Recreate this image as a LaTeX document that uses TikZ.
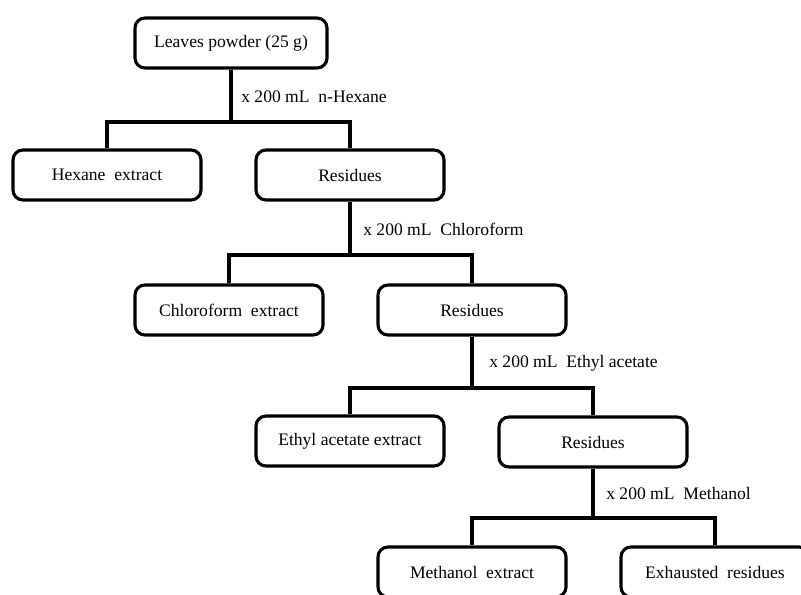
\documentclass[tikz,border=0pt]{standalone}
\usepackage{fontspec}
\setmainfont{Liberation Serif}
\usetikzlibrary{positioning}
\tikzset{every picture/.style={x=0.025cm,y=-0.025cm},
  box/.style={rectangle, rounded corners=0.25cm, draw=black, line width=2.2pt,
    minimum width=4.7cm, minimum height=1.25cm, font=\fontsize{12.5}{15}\selectfont},
  lbl/.style={anchor=west, inner sep=0pt, font=\fontsize{12.5}{15}\selectfont},
  link/.style={line width=2.6pt}}

\begin{document}
\begin{tikzpicture}
        \clip (0,0) rectangle (801,594);
        \node[box, minimum width=4.8cm] (top) at (231, 43) {Leaves powder (25 g)};
        \node[box] (hex) at (107, 175) {Hexane~ extract};
        \node[box] (res1) at (350, 175) {Residues};
        \node[box] (chl) at (229, 310) {Chloroform~ extract};
        \node[box] (res2) at (472, 310) {Residues};
        \node[box] (eth) at (350, 441) {Ethyl acetate extract};
        \node[box] (res3) at (593, 442) {Residues};
        \node[box] (met) at (472, 572) {Methanol~ extract};
        \node[box] (exh) at (715, 572) {Exhausted~ residues};

        \node[lbl] (s1) at (241, 97) {x 200 mL~ n-Hexane};
        \node[lbl] (s2) at (363, 229) {x 200 mL~ Chloroform};
        \node[lbl] (s3) at (489, 363) {x 200 mL~ Ethyl acetate};
        \node[lbl] (s4) at (606, 493) {x 200 mL~ Methanol};

        \coordinate (j1) at (top.south |- 0,122);
        \coordinate (j2) at (res1.south |- 0,255);
        \coordinate (j3) at (res2.south |- 0,388);
        \coordinate (j4) at (res3.south |- 0,518);

        \foreach \up/\j/\left/\right in {
          top/j1/hex/res1,
          res1/j2/chl/res2,
          res2/j3/eth/res3,
          res3/j4/met/exh}
        \draw[link] (\up.south) -- (\j) (\left.north) |- (\j) -| (\right.north);
      \end{tikzpicture}
\end{document}
